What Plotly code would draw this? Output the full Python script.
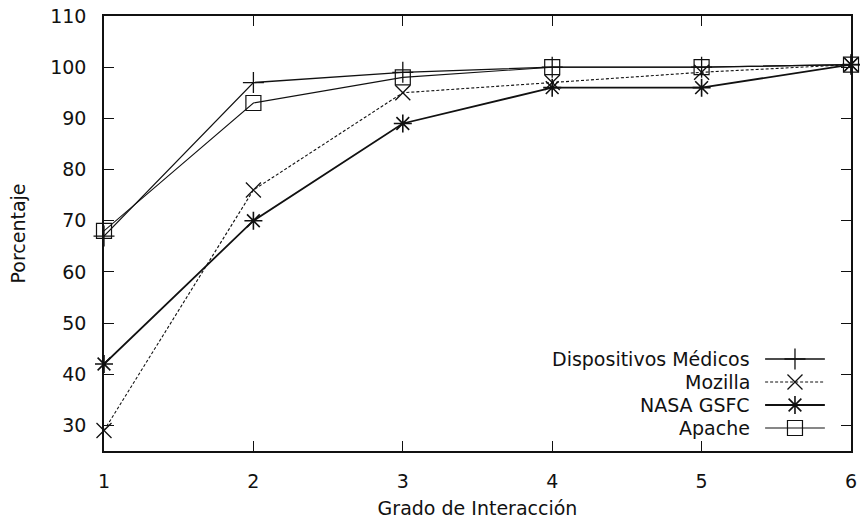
import plotly.graph_objects as go

x_vals = [1, 2, 3, 4, 5, 6]
series_names = ["Dispositivos Médicos", "Mozilla", "NASA GSFC", "Apache"]
disp_medicos = [67, 97, 99, 100, 100, 100.5]
mozilla = [29, 76, 95, 97, 99, 100.5]
nasa_gsfc = [42, 70, 89, 96, 96, 100.5]
apache = [68, 93, 98, 100, 100, 100.5]
y_ticks = [30, 40, 50, 60, 70, 80, 90, 100, 110]

FONT = "DejaVu Sans"
FS = 19
styles = [
    dict(symbol="cross-thin-open", size=15, lw=1.3, dash="solid", mlw=1.3),
    dict(symbol="x-thin-open", size=15, lw=1.1, dash="3px,2px", mlw=1.3),
    dict(symbol="asterisk-open", size=15, lw=1.8, dash="solid", mlw=1.6),
    dict(symbol="square-open", size=15, lw=1.1, dash="solid", mlw=1.2),
]
data = [disp_medicos, mozilla, nasa_gsfc, apache]

fig = go.Figure()
for name, ys, st in zip(series_names, data, styles):
    fig.add_trace(go.Scatter(
        x=x_vals, y=ys, mode="lines+markers", name=name,
        line=dict(color="#111111", width=st["lw"], dash=st["dash"]),
        marker=dict(symbol=st["symbol"], size=st["size"], color="#111111",
                    line=dict(color="#111111", width=st["mlw"])),
        showlegend=False, cliponaxis=False,
    ))

# Custom key (gnuplot-style: label, then sample on the right)
key_rows = [0.2115, 0.1586, 0.1057, 0.0529]
for name, st, ky in zip(series_names, styles, key_rows):
    fig.add_trace(go.Scatter(
        x=[0.885, 0.965], y=[ky, ky], mode="lines", xaxis="x2", yaxis="y2",
        line=dict(color="#111111", width=st["lw"], dash=st["dash"]),
        showlegend=False, hoverinfo="skip",
    ))
    fig.add_trace(go.Scatter(
        x=[0.925], y=[ky], mode="markers", xaxis="x2", yaxis="y2",
        marker=dict(symbol=st["symbol"], size=st["size"], color="#111111",
                    line=dict(color="#111111", width=st["mlw"])),
        showlegend=False, hoverinfo="skip",
    ))
    fig.add_annotation(x=0.8675, y=ky, xref="paper", yref="paper", text=name,
                       showarrow=False, xanchor="right", yanchor="middle",
                       font=dict(family=FONT, size=FS, color="#111111"))

axis_common = dict(showline=True, linecolor="#111111", linewidth=1.5, mirror="ticks",
                   ticks="inside", ticklen=10, tickcolor="#111111", tickwidth=1.2,
                   showgrid=False, zeroline=False, automargin=False,
                   tickfont=dict(family=FONT, size=FS, color="#111111"))

fig.update_layout(
    width=860, height=519,
    margin=dict(l=104, r=9, t=16, b=68),
    paper_bgcolor="white", plot_bgcolor="white",
    font=dict(family=FONT, size=FS, color="#111111"),
    xaxis=dict(range=[1, 6], tickvals=x_vals, ticktext=[str(v) for v in x_vals],
               ticklabelstandoff=12,
               title=dict(text="Grado de Interacción", font=dict(family=FONT, size=FS), standoff=14),
               **axis_common),
    yaxis=dict(range=[25, 110], tickvals=y_ticks, ticktext=[str(v) for v in y_ticks],
               ticklabelstandoff=12,
               title=dict(text="Porcentaje", font=dict(family=FONT, size=FS), standoff=20),
               **axis_common),
    xaxis2=dict(overlaying="x", range=[0, 1], visible=False, fixedrange=True),
    yaxis2=dict(overlaying="y", range=[0, 1], visible=False, fixedrange=True),
    showlegend=False,
)

fig.write_html("out.html",
               config={"displayModeBar": False},
               post_script="document.body.style.margin='0';document.body.style.overflow='hidden';")
